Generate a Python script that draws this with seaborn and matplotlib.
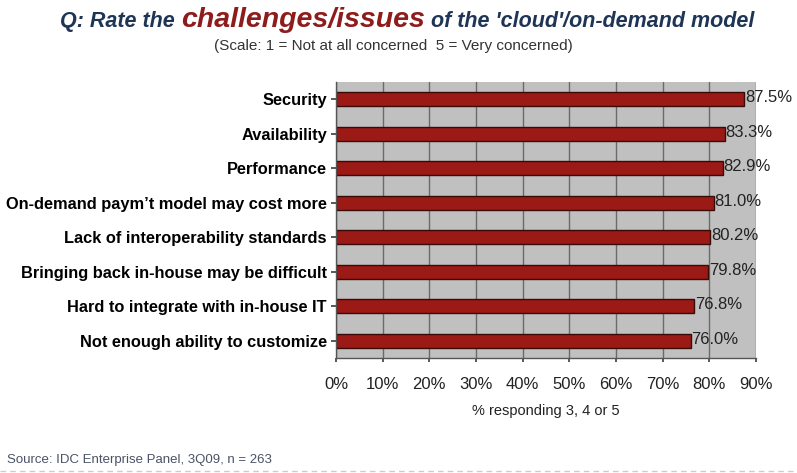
import matplotlib
matplotlib.use("Agg")
import matplotlib.pyplot as plt
import seaborn as sns
import pandas as pd

categories = ["Security", "Availability", "Performance", "On-demand paym\u2019t model may cost more",
              "Lack of interoperability standards", "Bringing back in-house may be difficult",
              "Hard to integrate with in-house IT", "Not enough ability to customize"]
values = [87.5, 83.3, 82.9, 81.0, 80.2, 79.8, 76.8, 76.0]
xticks = [0, 10, 20, 30, 40, 50, 60, 70, 80, 90]

sns.set_theme(style="white")
plt.rcParams['font.family'] = ['Liberation Sans', 'DejaVu Sans']

df = pd.DataFrame({"cat": categories, "val": values})
fig = plt.figure(figsize=(7.97, 4.73), dpi=100)
ax = fig.add_axes([336/797, 1-358/473, 420/797, 276/473])
ax.set_facecolor("#c0c0c0")
sns.barplot(data=df, x="val", y="cat", ax=ax, color="#9b1a16", width=0.42,
            edgecolor="#3a0a08", linewidth=1.0, saturation=1)
ax.set_xlim(0, 90)
ax.set_xticks(xticks)
ax.set_xticklabels([f"{t}%" for t in xticks], fontsize=12, color="#222222")
ax.tick_params(axis="x", length=3, pad=11, color="#444444", direction="out", bottom=True)
ax.tick_params(axis="y", length=3.5, pad=3, color="#444444", left=True)
for lab in ax.get_yticklabels():
    lab.set_fontweight("bold")
    lab.set_fontsize(11.8)
    lab.set_color("black")
ax.grid(axis="x", color="#6a6a6a", linewidth=1)
ax.set_axisbelow(True)
for s in ["top", "right"]:
    ax.spines[s].set_visible(False)
for s in ["left", "bottom"]:
    ax.spines[s].set_color("#555555")
    ax.spines[s].set_linewidth(1)
ax.set_ylabel("")
ax.set_xlabel("% responding 3, 4 or 5", fontsize=10.5, color="#222222", labelpad=8)
ax.set_ylim(len(categories)-0.5, -0.5)

for i, v in enumerate(values):
    ax.text(v + 0.15, i - 0.05, f"{v:.1f}%", va="center", ha="left", fontsize=12, color="#222222")

# Title in pieces
fig.canvas.draw()
r = fig.canvas.get_renderer()
parts = [("Q: Rate the ", "#1f3556", 15.5), ("challenges/issues", "#8f1c1c", 20.5),
         (" of the 'cloud'/on-demand model", "#1f3556", 15.5)]
texts = []
for s, c, fs in parts:
    t = fig.text(0, 1-27/473, s, color=c, fontsize=fs, fontweight="bold", fontstyle="italic",
                 ha="left", va="baseline")
    texts.append(t)
widths = [t.get_window_extent(r).width for t in texts]
total = sum(widths)
start = 407 - total/2
for t, w in zip(texts, widths):
    t.set_x(start/797)
    start += w

fig.text(393/797, 1-46/473, "(Scale: 1 = Not at all concerned  5 = Very concerned)", fontsize=11,
         color="#333333", ha="center", va="center")
fig.text(7/797, 1-460/473, "Source: IDC Enterprise Panel, 3Q09, n = 263", fontsize=9.5,
         color="#4a5266", ha="left", va="center")
fig.add_artist(plt.Line2D([0, 1], [1-471/473, 1-471/473], color="#cccccc", linestyle=(0, (4, 3)),
                          linewidth=1, transform=fig.transFigure))

fig.savefig("out.png", dpi=100)
